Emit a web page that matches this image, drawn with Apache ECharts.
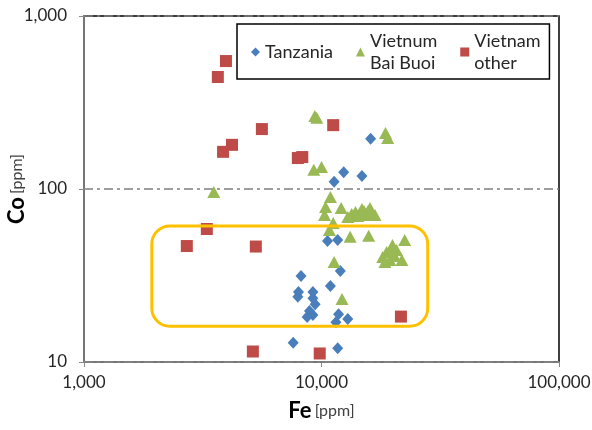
<!DOCTYPE html>
<html>
<head>
<meta charset="utf-8">
<title>Co vs Fe</title>
<script src="https://cdn.jsdelivr.net/npm/echarts@6/dist/echarts.min.js"></script>
<style>
  html, body { margin: 0; padding: 0; background: #fff; }
  #chart { width: 592px; height: 430px; }
</style>
</head>
<body>
<div id="chart"></div>
<script>
// data (ppm)
var tanzaniaFe = [16100, 12400, 14800, 11300, 10600, 11700, 12000, 8200, 10900, 8000, 7950,
                  9200, 9200, 9400, 8900, 8700, 9200, 11800, 12900, 11500, 7600, 11700];
var tanzaniaCo = [195, 125, 119, 110, 50, 50.7, 33.6, 31.4, 27.5, 25.4, 23.8,
                  25.4, 23.4, 21.6, 19.7, 18.2, 18.7, 18.9, 17.7, 17.0, 12.9, 12.0];

var baiBuoiFe = [9370, 9550, 9280, 10000, 3520, 18600, 19000, 10900, 10400, 12100, 10300,
                 11200, 10800, 13200, 15800, 11300, 12200, 13400, 13900, 14500, 15100, 15700,
                 16300, 16800, 14200, 15400, 12900, 16000, 14800, 22400, 19900, 18800, 20700,
                 18100, 19400, 21800, 19800, 20300, 18500];
var baiBuoiCo = [264, 258, 129, 134, 96, 211, 197, 90, 78.7, 77.7, 70.7,
                 63.6, 57.9, 53, 53.7, 37.9, 23.1, 71.7, 73.6, 72.6, 74.6, 74.6,
                 72.6, 70.7, 69.8, 70.7, 68.9, 77.7, 76.6, 50.7, 47.5, 43.2, 44.4,
                 40.5, 38.9, 38.9, 44.4, 41.0, 37.9];

var otherFe = [3960, 3660, 5610, 4200, 3850, 7950, 8300, 11200, 2710, 3290, 5290, 5140, 9830, 21600];
var otherCo = [549, 444, 222, 180, 164, 151, 153, 234, 46.8, 58.7, 46.5, 11.5, 11.2, 18.3];

var seriesNames = ['Tanzania', 'Vietnum Bai Buoi', 'Vietnam other'];
var legendLabels = ['Tanzania', 'Vietnum\nBai Buoi', 'Vietnam\nother'];

// highlighted range (yellow box)
var boxFe = [1930, 28000];
var boxCo = [16.1, 61.1];

function pairs(xs, ys) {
    var out = [];
    for (var i = 0; i < xs.length; i++) out.push([xs[i], ys[i]]);
    return out;
}
function fmt(v) { return v.toLocaleString('en-US'); }

var font = 'Lato';
var chart = echarts.init(document.getElementById('chart'));
var option = {
    animation: false,
    textStyle: { fontFamily: font },
    grid: {
        left: 84, right: 33, top: 16, bottom: 68,
        outerBoundsMode: 'none', containLabel: false,
        show: true, borderColor: '#000', borderWidth: 1.5
    },
    legend: {
        left: 237, top: 24,
        padding: [6, 9, 5, 14],
        borderColor: '#000', borderWidth: 1.5,
        backgroundColor: '#fff',
        itemWidth: 9, itemHeight: 9, itemGap: 23,
        data: [
            { name: seriesNames[0], icon: 'diamond' },
            { name: seriesNames[1], icon: 'triangle' },
            { name: seriesNames[2], icon: 'rect' }
        ],
        formatter: function (name) {
            return legendLabels[seriesNames.indexOf(name)];
        },
        textStyle: { fontSize: 18, color: '#262626', lineHeight: 22, fontFamily: font }
    },
    xAxis: {
        type: 'log', logBase: 10, min: 1000, max: 100000,
        name: '{b|Fe} {n|[ppm]}',
        nameLocation: 'middle', nameGap: 38,
        nameTextStyle: {
            rich: {
                b: { fontSize: 22, fontWeight: 'bold', color: '#000', fontFamily: font },
                n: { fontSize: 16, color: '#404040', fontFamily: font }
            }
        },
        axisLine: { lineStyle: { color: '#898989', width: 1.5 } },
        axisTick: { show: true, length: 5, lineStyle: { color: '#898989' } },
        axisLabel: { fontSize: 17, color: '#262626', margin: 12, formatter: fmt },
        splitLine: { show: false },
        minorTick: { show: false }
    },
    yAxis: {
        type: 'log', logBase: 10, min: 10, max: 1000,
        name: '{b|Co} {n|[ppm]}',
        nameLocation: 'middle', nameGap: 56, nameRotate: 90,
        nameMoveOverlap: false,
        nameTextStyle: {
            rich: {
                b: { fontSize: 22, fontWeight: 'bold', color: '#000', fontFamily: font },
                n: { fontSize: 16, color: '#404040', fontFamily: font }
            }
        },
        axisLine: { show: true, lineStyle: { color: '#898989', width: 1.5 } },
        axisTick: { show: true, length: 5, lineStyle: { color: '#898989' } },
        axisLabel: { fontSize: 17, color: '#262626', margin: 17, formatter: fmt },
        splitLine: { show: true, lineStyle: { color: '#7f7f7f', width: 1.5, type: [9, 4, 3, 4] } }
    },
    series: [
        {
            name: seriesNames[0], type: 'scatter', symbol: 'diamond', symbolSize: [11, 12],
            itemStyle: { color: '#4a7ebb', opacity: 1 },
            data: pairs(tanzaniaFe, tanzaniaCo)
        },
        {
            name: seriesNames[1], type: 'scatter', symbol: 'triangle', symbolSize: [13, 12],
            itemStyle: { color: '#98b954', opacity: 1 },
            data: pairs(baiBuoiFe, baiBuoiCo)
        },
        {
            name: seriesNames[2], type: 'scatter', symbol: 'rect', symbolSize: 12,
            itemStyle: { color: '#be4b48', opacity: 1 },
            data: pairs(otherFe, otherCo)
        }
    ]
};
chart.setOption(option);

// yellow rounded box, placed through the axes
var p0 = chart.convertToPixel({ gridIndex: 0 }, [boxFe[0], boxCo[1]]);
var p1 = chart.convertToPixel({ gridIndex: 0 }, [boxFe[1], boxCo[0]]);
chart.setOption({
    graphic: [{
        type: 'rect', z: 100,
        shape: { x: p0[0], y: p0[1], width: p1[0] - p0[0], height: p1[1] - p0[1], r: 18 },
        style: { fill: 'none', stroke: '#ffc000', lineWidth: 3 }
    }]
});
</script>
</body>
</html>
